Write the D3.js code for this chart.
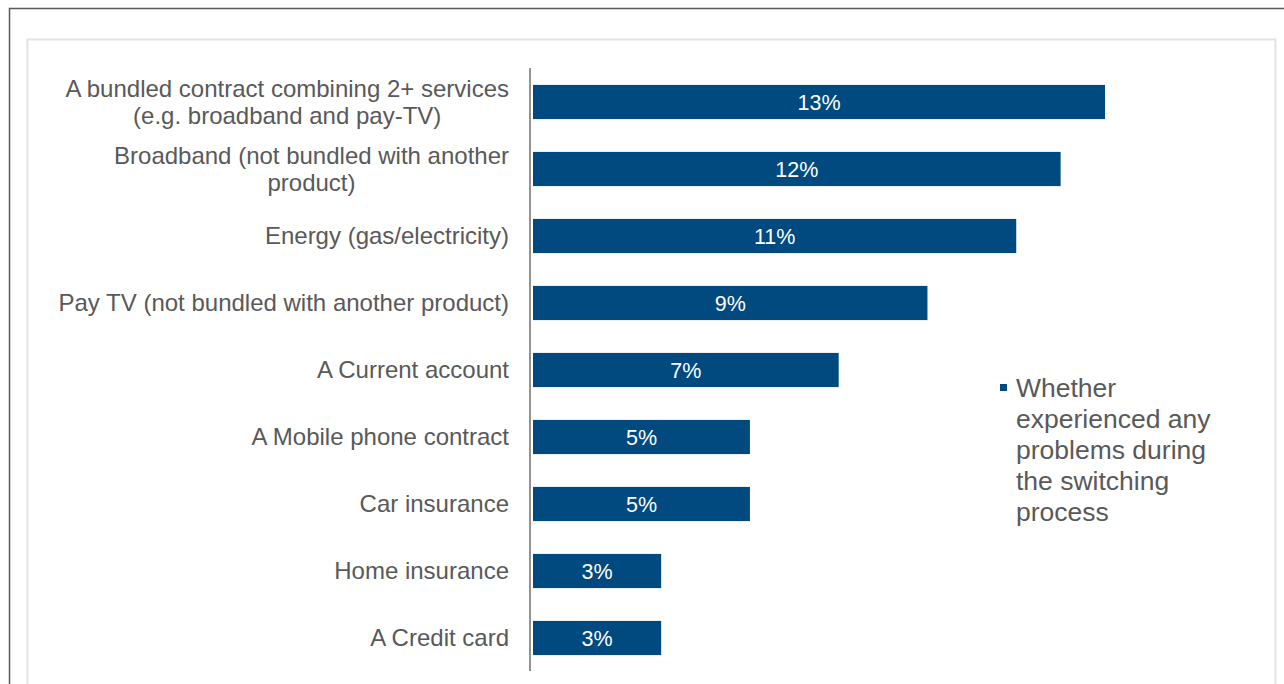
<!DOCTYPE html>
<html>
<head>
<meta charset="utf-8">
<script src="https://cdn.jsdelivr.net/npm/d3@7/dist/d3.min.js"></script>
<style>
  html, body { margin: 0; padding: 0; background: #fff; }
  svg { display: block; font-family: "Liberation Sans", Arial, sans-serif; }
</style>
</head>
<body>
<svg id="chart" width="1284" height="684"></svg>
<script>
// Share of switchers who experienced problems, by product
const categories = [
  ["A bundled contract combining 2+ services", "(e.g. broadband and pay-TV)"],
  ["Broadband (not bundled with another", "product)"],
  ["Energy (gas/electricity)"],
  ["Pay TV (not bundled with another product)"],
  ["A Current account"],
  ["A Mobile phone contract"],
  ["Car insurance"],
  ["Home insurance"],
  ["A Credit card"]
];
const values = [13, 12, 11, 9, 7, 5, 5, 3, 3];
const valueLabels = values.map(v => v + "%");
const legendLines = ["Whether", "experienced any", "problems during", "the switching", "process"];

const svg = d3.select("#chart");
const textColor = "#595959";
const barColor = "#004a7f";

// Outer frame (top and left edges visible)
svg.append("path")
  .attr("d", "M9.5,684 V8.5 H1284")
  .attr("fill", "none")
  .attr("stroke", "#5a5a5a")
  .attr("stroke-width", 1.5);

// Inner chart-area border
svg.append("rect")
  .attr("x", 27.5).attr("y", 39.5)
  .attr("width", 1248).attr("height", 700)
  .attr("fill", "#fff")
  .attr("stroke", "#e3e3e3")
  .attr("stroke-width", 2);

const ids = d3.range(values.length);
const y = d3.scaleBand()
  .domain(ids)
  .range([68.5, 671.5])
  .paddingInner(0.49)
  .paddingOuter(0.245);

const x = d3.scaleLinear()
  .domain([0, 13])
  .range([528, 1105]);

const gap = 5;

// Bars
svg.append("g").selectAll("rect")
  .data(ids)
  .join("rect")
  .attr("x", x(0) + gap)
  .attr("y", i => y(i))
  .attr("width", i => x(values[i]) - x(0) - gap)
  .attr("height", y.bandwidth())
  .attr("fill", barColor);

// Value labels
svg.append("g").selectAll("text")
  .data(ids)
  .join("text")
  .attr("x", i => (x(0) + gap + x(values[i])) / 2)
  .attr("y", i => y(i) + y.bandwidth() / 2)
  .attr("dy", "0.35em")
  .attr("text-anchor", "middle")
  .attr("fill", "#fff")
  .attr("font-size", 21.5)
  .text(i => valueLabels[i]);

// Category axis line
svg.append("line")
  .attr("x1", 530).attr("x2", 530)
  .attr("y1", 68).attr("y2", 671)
  .attr("stroke", "#6f6f6f")
  .attr("stroke-width", 1.5);

// Category labels: block right-aligned to the axis, lines centred within the block
const labelRight = 509;
const lineH = 27.5;
const labels = svg.append("g").selectAll("text")
  .data(ids)
  .join("text")
  .attr("fill", textColor)
  .attr("font-size", 24);
labels.each(function(i) {
  const lines = categories[i];
  const cy = y(i) + y.bandwidth() / 2;
  const top = cy - (lines.length - 1) * lineH / 2;
  const t = d3.select(this);
  const spans = t.selectAll("tspan")
    .data(lines)
    .join("tspan")
    .attr("y", (d, k) => top + k * lineH)
    .attr("dy", "0.35em")
    .text(d => d);
  if (lines.length === 1) {
    t.attr("text-anchor", "end");
    spans.attr("x", labelRight);
  } else {
    const widest = d3.max(spans.nodes(), n => n.getComputedTextLength());
    t.attr("text-anchor", "middle");
    spans.attr("x", labelRight - widest / 2);
  }
});

// Legend
const legend = svg.append("g");
legend.append("rect")
  .attr("x", 1000).attr("y", 384)
  .attr("width", 7).attr("height", 7)
  .attr("fill", barColor);
legend.append("text")
  .attr("fill", textColor)
  .attr("font-size", 26.5)
  .selectAll("tspan")
  .data(legendLines)
  .join("tspan")
  .attr("x", 1016)
  .attr("y", (d, k) => 388 + k * 31)
  .attr("dy", "0.35em")
  .text(d => d);
</script>
</body>
</html>
